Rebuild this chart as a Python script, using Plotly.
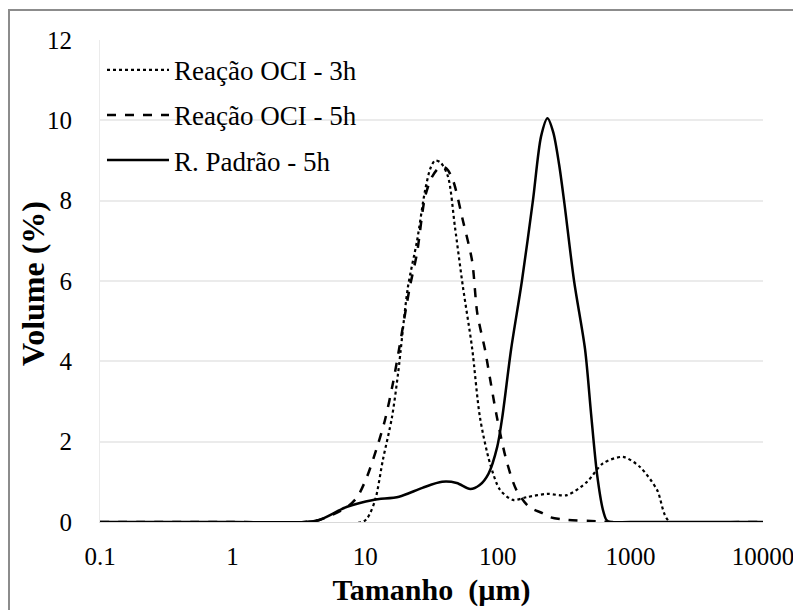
import plotly.graph_objects as go

# R. Padrão - 5h (solid)
x_padrao = [0.1, 1, 3.5, 4.5, 7.3, 11.5, 18, 27, 38, 49, 62, 73, 85, 99, 108, 126, 152, 184, 212, 237, 262, 290, 316, 376, 455, 505, 560, 621, 660, 702, 1000, 10000]
y_padrao = [0, 0, 0, 0.05, 0.38, 0.55, 0.63, 0.85, 1.0, 0.97, 0.82, 0.92, 1.2, 1.87, 2.6, 4.3, 6.0, 8.0, 9.6, 10.05, 9.7, 8.9, 8.0, 6.0, 4.3, 2.7, 1.2, 0.3, 0.05, 0, 0, 0]

# Reação OCI - 3h (dotted)
x_3h = [0.1, 1, 9.5, 10.4, 11.9, 13.6, 15.9, 17.7, 21.0, 24.6, 28.3, 31, 33.6, 37, 42.1, 47.5, 54.6, 63.9, 73.4, 87.3, 104, 130, 166, 235, 333, 471, 621, 879, 1181, 1588, 1990, 10000]
y_3h = [0, 0, 0, 0.1, 0.55, 1.55, 2.6, 3.7, 5.85, 7.0, 8.26, 8.8, 9.0, 8.95, 8.6, 7.35, 5.85, 4.35, 2.6, 1.46, 0.8, 0.55, 0.62, 0.70, 0.67, 1.0, 1.46, 1.62, 1.37, 0.8, 0, 0]

# Reação OCI - 5h (dashed)
x_5h = [0.1, 1, 3.5, 4.5, 7.3, 8.7, 10.3, 12.3, 14.1, 16.2, 18, 21.7, 24.6, 28.3, 32, 36.7, 41, 46, 54.6, 64, 70, 80, 83, 98.6, 116, 138, 173, 217, 248, 333, 560, 700, 10000]
y_5h = [0, 0, 0, 0.05, 0.37, 0.62, 1.12, 1.87, 2.54, 3.46, 4.3, 5.85, 6.7, 8.1, 8.6, 8.84, 8.8, 8.5, 7.5, 6.5, 5.2, 4.3, 4.0, 2.6, 1.54, 0.8, 0.37, 0.22, 0.12, 0.05, 0.02, 0, 0]

tick_vals = [0.1, 1, 10, 100, 1000, 10000]
tick_text = ["0.1", "1", "10", "100", "1000", "10000"]

x_title = "Tamanho  (µm)"
y_title = "Volume (%)"

font_family = "Liberation Serif"

fig = go.Figure()
fig.add_trace(go.Scatter(x=x_3h, y=y_3h, mode="lines", name="Reação OCI - 3h", legendgroup="a",
                         line=dict(color="black", width=2.2, dash="dot", shape="spline", smoothing=0.8)))
fig.add_trace(go.Scatter(x=x_5h, y=y_5h, mode="lines", name="Reação OCI - 5h", legendgroup="b",
                         line=dict(color="black", width=2.5, dash="dash", shape="spline", smoothing=0.8)))
fig.add_trace(go.Scatter(x=x_padrao, y=y_padrao, mode="lines", name="R. Padrão - 5h", legendgroup="c",
                         line=dict(color="black", width=2.5, shape="spline", smoothing=0.8)))

# page has 8px body margin: coordinates below are reference pixels minus 8
L, R, T, B = 92, 755, 32, 514
W = R - L
H = B - T

fig.update_layout(
    width=801, height=610,
    margin=dict(l=L, r=801 - R, t=T, b=610 - B),
    paper_bgcolor="white", plot_bgcolor="white",
    font=dict(family=font_family, size=25, color="black"),
    showlegend=True,
    legend=dict(x=0.003, y=0.988, xanchor="left", yanchor="top", traceorder="grouped",
                bgcolor="rgba(0,0,0,0)", font=dict(size=27, family=font_family),
                itemwidth=62, tracegroupgap=7),
    xaxis=dict(type="log", range=[-1, 4], tickvals=tick_vals, ticktext=tick_text,
               showgrid=False, zeroline=False, showline=True, linecolor="#d9d9d9",
               ticks="", ticklabelstandoff=12, tickfont=dict(size=25),
               title=dict(text="<b>" + x_title + "</b>", font=dict(size=30, family=font_family), standoff=9)),
    yaxis=dict(range=[0, 12], dtick=2, showgrid=True, gridcolor="#ebebeb", gridwidth=1.5,
               zeroline=False, showline=True, linecolor="#ebebeb", ticks="",
               ticklabelstandoff=22, tickfont=dict(size=25)),
    annotations=[dict(text="<b>" + y_title + "</b>", textangle=-90, showarrow=False,
                      xref="paper", yref="paper", x=(25 - L) / W, y=(B - 276) / H,
                      xanchor="center", yanchor="middle",
                      font=dict(size=32, family=font_family, color="black"))],
    shapes=[dict(type="rect", xref="paper", yref="paper",
                 x0=(1 - L) / W, x1=(806 - L) / W,
                 y0=(B - 616) / H, y1=(B - 2) / H,
                 line=dict(color="#8c8c8c", width=2), fillcolor="rgba(0,0,0,0)", layer="below")],
)

fig.write_html("out.html")
